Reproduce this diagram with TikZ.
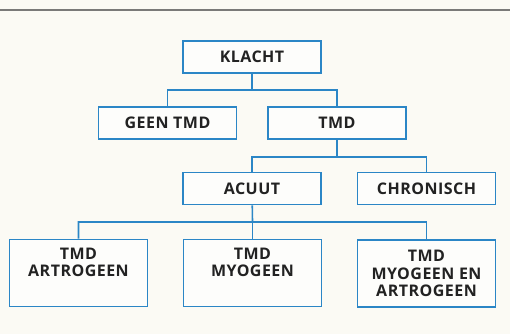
\documentclass[tikz,border=0pt]{standalone}
\usepackage{fontspec}
\setmainfont[LetterSpace=3]{Open Sans}
\usepackage{tikz}
\usetikzlibrary{positioning,backgrounds}
\definecolor{colorbox}{HTML}{2B86C6}
\definecolor{colorbg}{HTML}{FBFAF4}
\definecolor{colorrule}{HTML}{7A7A78}
\definecolor{colortext}{HTML}{222222}
\tikzset{
  box/.style={draw=colorbox, line width=1.7pt, fill=white!60!colorbg,
    minimum width=138pt, minimum height=32pt, align=center,
    text=colortext, font=\fontsize{16}{17.5}\selectfont\bfseries},
  tallbox/.style={box, minimum height=67pt},
  twobox/.style={tallbox, text depth=21pt},
  edgetree/.style={colorbox, line width=1.6pt}
}

\begin{document}
\begin{tikzpicture}[x=1pt, y=-1pt]
\fill[colorbg] (0,0) rectangle (510,334);
\useasboundingbox (0,0) rectangle (510,334);
\coordinate (rl) at (0,10);
\coordinate (rr) at (510,10);
\draw[colorrule, line width=1.8pt] (rl) -- (rr);
% boxes
\node[box] (klacht) at (252,57) {KLACHT};
\node[box] (geen) at (167.5,123) {GEEN TMD};
\node[box] (tmd) at (337,123) {TMD};
\node[box] (acuut) at (252,188.5) {ACUUT};
\node[box] (chron) at (426.5,188.5) {CHRONISCH};
\node[twobox] (artro) at (78.5,273) {TMD\\ARTROGEEN};
\node[twobox] (myo) at (252.5,273) {TMD\\MYOGEEN};
\node[tallbox] (beide) at (426.5,273.5) {TMD\\MYOGEEN EN\\ARTROGEEN};
% junctions
\coordinate (j1) at (252,90);
\coordinate (j2) at (337,157);
\coordinate (j3) at (252.5,222);
\draw[edgetree] (klacht) -- (j1) -| (geen);
\draw[edgetree] (j1) -| (tmd);
\draw[edgetree] (tmd) -- (j2) -| (acuut);
\draw[edgetree] (j2) -| (chron);
\draw[edgetree] (acuut) -- (j3) -| (artro);
\draw[edgetree] (j3) -- (myo);
\draw[edgetree] (j3) -| (beide);
\end{tikzpicture}
\end{document}
